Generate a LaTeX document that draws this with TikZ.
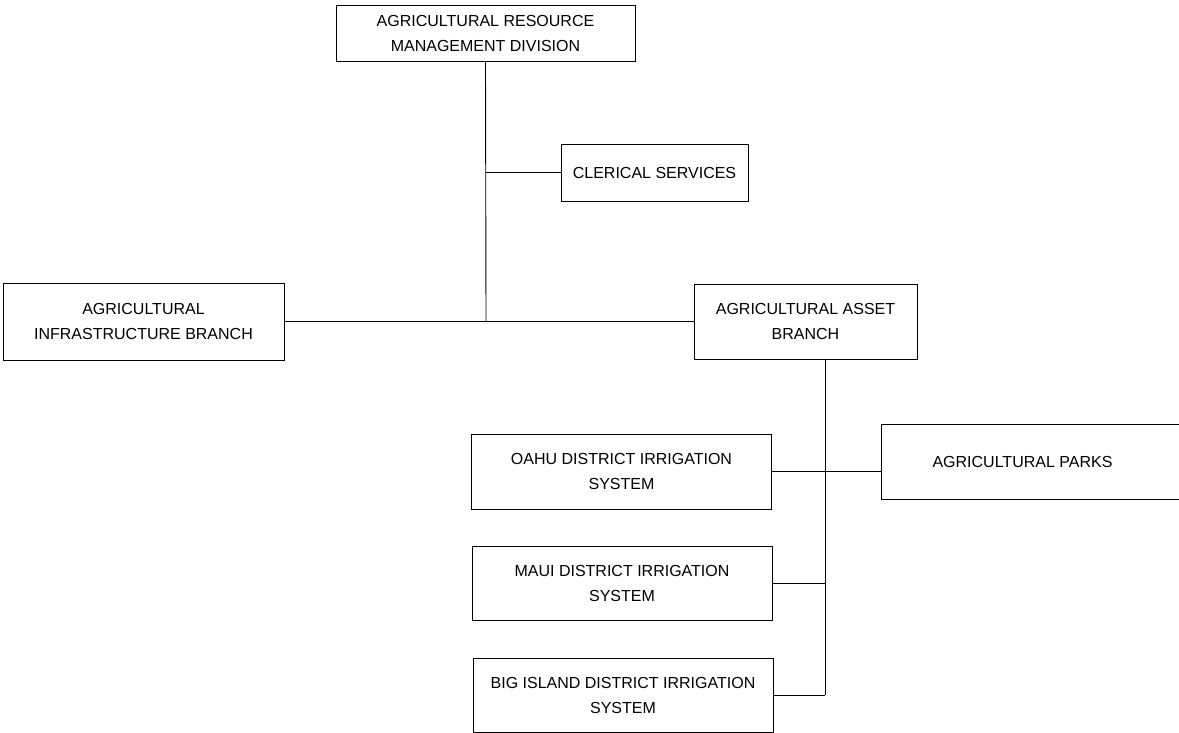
\documentclass[tikz,border=0pt]{standalone}
\usepackage{fontspec}
\setmainfont{Liberation Sans}
\usepackage{tikz}
\usetikzlibrary{positioning}

\tikzset{
	unitbox/.style={draw, line width=0.9pt, inner sep=2pt, align=center,
		font=\fontsize{16}{25}\selectfont},
	link/.style={line width=0.9pt}
}

\begin{document}
\begin{tikzpicture}[x=1pt, y=-1pt]
	% page frame
	\useasboundingbox[fill=white] (0,0) rectangle (1179,733);
	
	% draw nodes
	\node[unitbox, minimum width=299pt, minimum height=56pt] (mgmt) at (485.5,33) {AGRICULTURAL RESOURCE\\MANAGEMENT DIVISION};
	\node[unitbox, minimum width=187pt, minimum height=57pt] (cler) at (654.5,172.5) {CLERICAL SERVICES};
	\node[unitbox, minimum width=281pt, minimum height=77pt] (infra) at (143.5,321.5) {AGRICULTURAL\\INFRASTRUCTURE BRANCH};
	\node[unitbox, minimum width=223pt, minimum height=75pt] (asset) at (805.5,321.5) {AGRICULTURAL ASSET\\BRANCH};
	\node[unitbox, minimum width=309pt, minimum height=75pt, align=left] (parks) at (1035.5,461.5) {AGRICULTURAL PARKS\hspace{26pt}};
	\node[unitbox, minimum width=300pt, minimum height=75pt] (oahu) at (621.5,471.5) {OAHU DISTRICT IRRIGATION\\SYSTEM};
	\node[unitbox, minimum width=300pt, minimum height=74pt] (maui) at (622,583) {MAUI DISTRICT IRRIGATION\\SYSTEM};
	\node[unitbox, minimum width=300pt, minimum height=74pt] (big) at (623,695) {BIG ISLAND DISTRICT IRRIGATION\\SYSTEM};
	
	% junctions
	\coordinate (jtop) at (486,322);
	\coordinate (jcler) at (486,172.5);
	\coordinate (jbot) at (825,695);
	
	% draw connectors
	\draw[link] (mgmt.south) -- (jtop);
	\draw[link] (jcler) -- (cler.west);
	\draw[link] (infra.east) -- (asset.west);
	\draw[link] (asset.south -| jbot) -- (jbot);
	\draw[link] (oahu.east) -- (oahu.east -| parks.west);
	\draw[link] (maui.east) -- (maui.east -| jbot);
	\draw[link] (big.east) -- (jbot);
\end{tikzpicture}
\end{document}
